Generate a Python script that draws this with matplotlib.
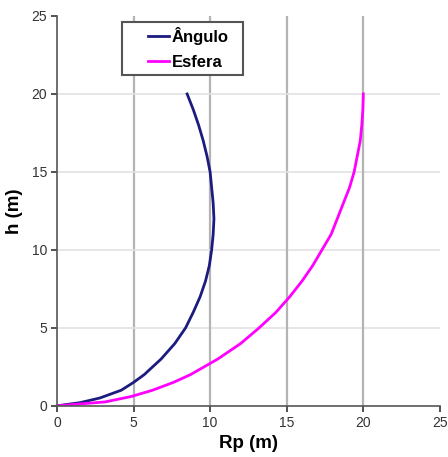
import matplotlib.pyplot as plt
from matplotlib.patches import Rectangle

plt.rcParams['font.family'] = ['Liberation Sans', 'DejaVu Sans']

# Angulo curve (Rp, h)
ang_rp = [0, 1.5, 2.8, 4.2, 5.0, 5.7, 6.8, 7.7, 8.4, 8.9, 9.35, 9.7, 9.95, 10.1,
          10.2, 10.25, 10.2, 10.1, 10.0, 9.8, 9.55, 9.25, 8.9, 8.5]
ang_h = [0, 0.2, 0.5, 1, 1.5, 2, 3, 4, 5, 6, 7, 8, 9, 10,
         11, 12, 13, 14, 15, 16, 17, 18, 19, 20]

# Esfera curve (Rp, h)
esf_rp = [0, 3.15, 4.86, 6.24, 7.6, 8.72, 10.5, 12.0, 13.2, 14.3, 15.2, 16.0, 16.7,
          17.3, 17.9, 18.3, 18.7, 19.1, 19.4, 19.6, 19.8, 19.9, 19.97, 20.0]
esf_h = [0, 0.25, 0.6, 1, 1.5, 2, 3, 4, 5, 6, 7, 8, 9,
         10, 11, 12, 13, 14, 15, 16, 17, 18, 19, 20]

ticks = [0, 5, 10, 15, 20, 25]

fig = plt.figure(figsize=(4.48, 4.57), dpi=100)
ax = fig.add_axes([0.127, 0.112, 0.855, 0.853])

for v in [5, 10, 15, 20]:
    ax.axvline(v, color='#b4b4b4', lw=1.6, zorder=0)
    ax.axhline(v, color='#e2e2e2', lw=1.2, zorder=0)

ax.plot(ang_rp, ang_h, color='#1c1c80', lw=2, label='Ângulo')
ax.plot(esf_rp, esf_h, color='#ff00ff', lw=2, label='Esfera')

ax.set_xlim(0, 25)
ax.set_ylim(0, 25)
ax.set_xticks(ticks)
ax.set_yticks(ticks)
ax.tick_params(labelsize=10, colors='#333333', length=4, width=1.2, pad=3)
for s in ['top', 'right']:
    ax.spines[s].set_visible(False)
for s in ['left', 'bottom']:
    ax.spines[s].set_color('#555555')
    ax.spines[s].set_linewidth(1.2)

ax.set_xlabel('Rp (m)', fontsize=13.5, fontweight='bold', labelpad=4)
ax.set_ylabel('h (m)', fontsize=13.5, fontweight='bold', labelpad=6)

# legend box drawn separately (wide left padding as in the original)
ax.add_patch(Rectangle((0.17, 0.848), 0.315, 0.137, transform=ax.transAxes,
                       facecolor='white', edgecolor='#555555', lw=1.5, zorder=5,
                       clip_on=False))
leg = ax.legend(loc='upper left', bbox_to_anchor=(0.22, 0.99), borderaxespad=0,
                frameon=False, handlelength=1.25, handletextpad=0.2,
                borderpad=0.4, labelspacing=0.62,
                prop={'weight': 'bold', 'size': 12})
leg.set_zorder(6)

fig.savefig('out.png', dpi=100)
